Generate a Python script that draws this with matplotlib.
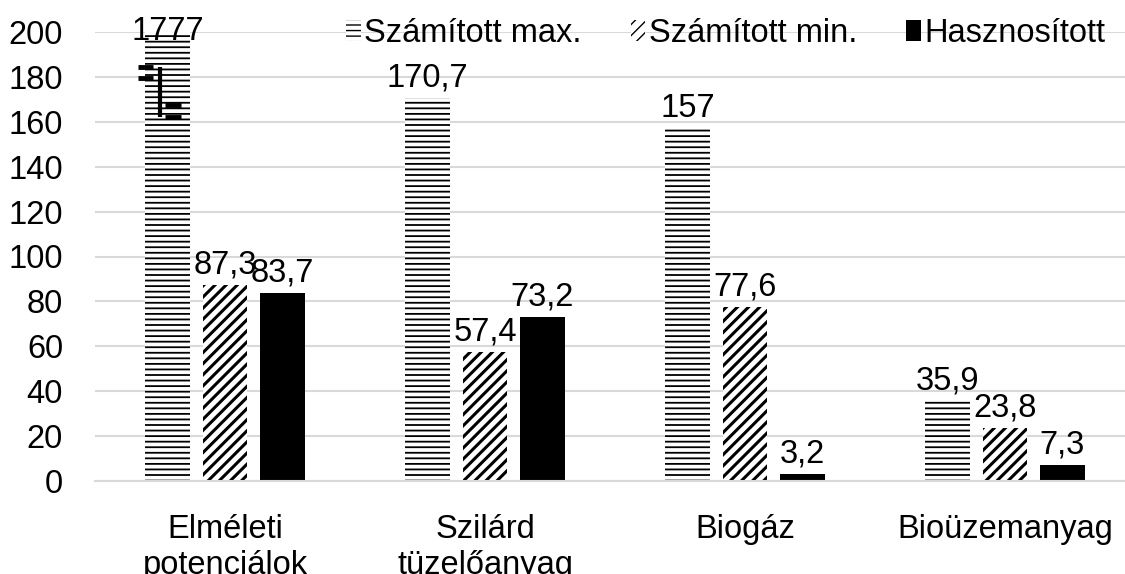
import numpy as np
import matplotlib
matplotlib.use('Agg')
import matplotlib.pyplot as plt

plt.rcParams['font.family'] = ['Liberation Sans', 'DejaVu Sans']

# adatok
kategoriak = ['Elméleti\npotenciálok', 'Szilárd\ntüzelőanyag', 'Biogáz', 'Bioüzemanyag']
sorozatok = ['Számított max.', 'Számított min.', 'Hasznosított']
szamitott_max = [1777, 170.7, 157, 35.9]
szamitott_min = [87.3, 57.4, 77.6, 23.8]
hasznositott = [83.7, 73.2, 3.2, 7.3]
cimkek_max = ['1777', '170,7', '157', '35,9']
cimkek_min = ['87,3', '57,4', '77,6', '23,8']
cimkek_hasz = ['83,7', '73,2', '3,2', '7,3']

fs = 23.5
x = np.arange(len(kategoriak))
w = 0.173
step = 0.221

fig = plt.figure(figsize=(11.25, 5.74), dpi=100)
ax = fig.add_axes([95/1125, 93/574, 1040/1125, 449/574])

with plt.rc_context({'hatch.linewidth': 1.3}):
    b1 = ax.bar(x - step, szamitott_max, w, color='white', edgecolor='black',
                linewidth=0, hatch='---', label=sorozatok[0], zorder=2)
with plt.rc_context({'hatch.linewidth': 2.2}):
    b2 = ax.bar(x, szamitott_min, w, color='white', edgecolor='black',
                linewidth=0, hatch='///', label=sorozatok[1], zorder=2)
b3 = ax.bar(x + step, hasznositott, w, color='black', label=sorozatok[2], zorder=2)

# ertekcimkek
for i in range(len(x)):
    if szamitott_max[i] > 200:
        ax.text(x[i] - step, 200, cimkek_max[i], ha='center', va='center', fontsize=fs, zorder=3)
    else:
        ax.annotate(cimkek_max[i], (x[i] - step, szamitott_max[i]), xytext=(0, 3),
                    textcoords='offset points', ha='center', va='bottom', fontsize=fs)
    ax.annotate(cimkek_min[i], (x[i], szamitott_min[i]), xytext=(0, 3),
                textcoords='offset points', ha='center', va='bottom', fontsize=fs)
    ax.annotate(cimkek_hasz[i], (x[i] + step, hasznositott[i]), xytext=(0, 3),
                textcoords='offset points', ha='center', va='bottom', fontsize=fs)

# tengelytores jel
ax.plot([-0.335, -0.277], [184.4, 184.4], color='black', lw=3.5, zorder=4, solid_capstyle='butt')
ax.plot([-0.335, -0.277], [179.5, 179.5], color='black', lw=3.5, zorder=4, solid_capstyle='butt')
ax.plot([-0.25, -0.25], [184.4, 162], color='black', lw=3, zorder=4, solid_capstyle='butt')
ax.plot([-0.231, -0.169], [167.5, 167.5], color='black', lw=3.5, zorder=4, solid_capstyle='butt')
ax.plot([-0.231, -0.169], [162, 162], color='black', lw=3.5, zorder=4, solid_capstyle='butt')

ax.set_ylim(0, 200)
ax.set_xlim(-0.5, 3.5)
ax.set_yticks(range(0, 201, 20))
ax.set_xticks(x)
ax.set_xticklabels(kategoriak, fontsize=fs, linespacing=1.2)
ax.tick_params(axis='y', length=0, pad=23, labelsize=fs)
ax.tick_params(axis='x', length=0, pad=24)
ax.grid(axis='y', color='#d9d9d9', lw=1.5, zorder=0)
for s in ['left', 'right', 'top']:
    ax.spines[s].set_visible(False)
ax.spines['bottom'].set_color('#d9d9d9')
ax.spines['bottom'].set_linewidth(1.5)

ax.legend(loc='upper right', bbox_to_anchor=(1118/1040 - 95/1040, 1.06), ncol=3, frameon=False,
          fontsize=fs, handlelength=0.45, handleheight=0.6, handletextpad=0.1,
          columnspacing=1.5, borderaxespad=0)

plt.savefig('out.png', dpi=100)
